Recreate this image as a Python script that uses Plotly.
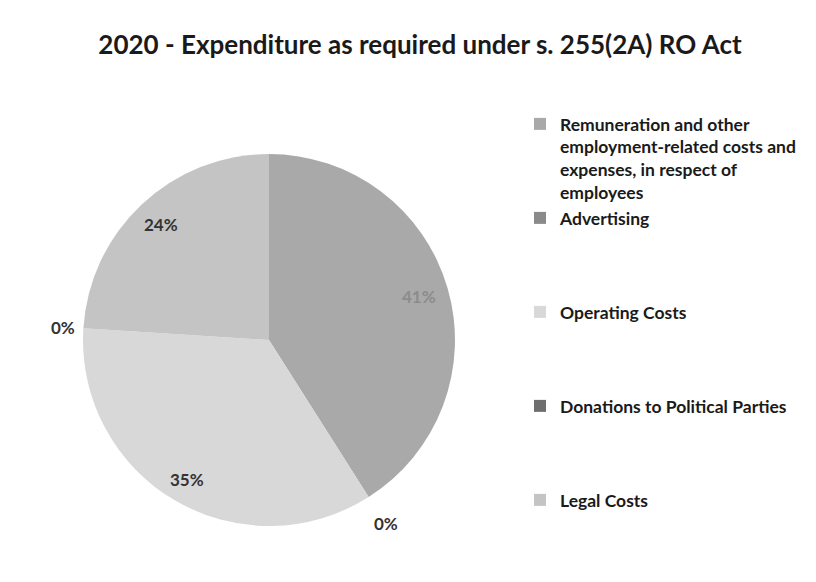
import math
import plotly.graph_objects as go

# ---- data ----
labels = [
    "Remuneration and other<br>employment-related costs and<br>expenses, in respect of<br>employees",
    "Advertising",
    "Operating Costs",
    "Donations to Political Parties",
    "Legal Costs",
]
percent_values = [41, 0, 35, 0, 24]
title_text = "2020 - Expenditure as required under s. 255(2A) RO Act"

# ---- styles ----
slice_colors = ["#a9a9a9", "#8a8a8a", "#d8d8d8", "#6e6e6e", "#c4c4c4"]
label_colors = ["#8c8c8c", "#333333", "#333333", "#333333", "#333333"]
label_radius = [0.84, 1.17, 0.87, 1.11, 0.85]   # fraction of pie radius
legend_pad_lines = [0, 3, 3, 3, 0]
FONT = "Lato"
W, H = 800, 566
dom_x = [0.09375, 0.55875]
dom_y = [0.0848, 0.7420]

legend_labels = [lab + "<br> " * n for lab, n in zip(labels, legend_pad_lines)]

fig = go.Figure(go.Pie(
    labels=legend_labels,
    values=percent_values,
    sort=False,
    direction="clockwise",
    rotation=0,
    textinfo="none",
    hoverinfo="label+percent",
    marker=dict(colors=slice_colors, line=dict(width=0)),
    domain=dict(x=dom_x, y=dom_y),
    showlegend=True,
))

# percentage labels placed from the cumulative data angles
cx = (dom_x[0] + dom_x[1]) / 2 * W
cy = (dom_y[0] + dom_y[1]) / 2 * H
R = min((dom_x[1] - dom_x[0]) * W, (dom_y[1] - dom_y[0]) * H) / 2
total = sum(percent_values)
cum = 0.0
for v, rf, col in zip(percent_values, label_radius, label_colors):
    mid = (cum + v / 2) / total * 2 * math.pi
    cum += v
    px = cx + rf * R * math.sin(mid)
    py = cy + rf * R * math.cos(mid)
    fig.add_annotation(
        x=px / W, y=py / H, xref="paper", yref="paper",
        text=f"<b>{round(v / total * 100)}%</b>", showarrow=False,
        font=dict(family=FONT, size=17, color=col),
        xanchor="center", yanchor="middle",
    )

fig.update_layout(
    width=W, height=H,
    margin=dict(l=0, r=0, t=0, b=0),
    paper_bgcolor="white",
    plot_bgcolor="white",
    title=dict(
        text=f"<b>{title_text}</b>",
        x=412 / W, xanchor="center",
        y=1 - 37 / H, yanchor="middle",
        font=dict(family=FONT, size=26, color="#1a1a1a"),
    ),
    legend=dict(
        x=512 / W, xanchor="left",
        y=1 - 98 / H, yanchor="top",
        valign="top",
        font=dict(family=FONT, size=17.5, color="#1a1a1a", weight="bold"),
        bgcolor="rgba(0,0,0,0)",
        itemclick=False,
    ),
)

fig.write_html("out.html")
